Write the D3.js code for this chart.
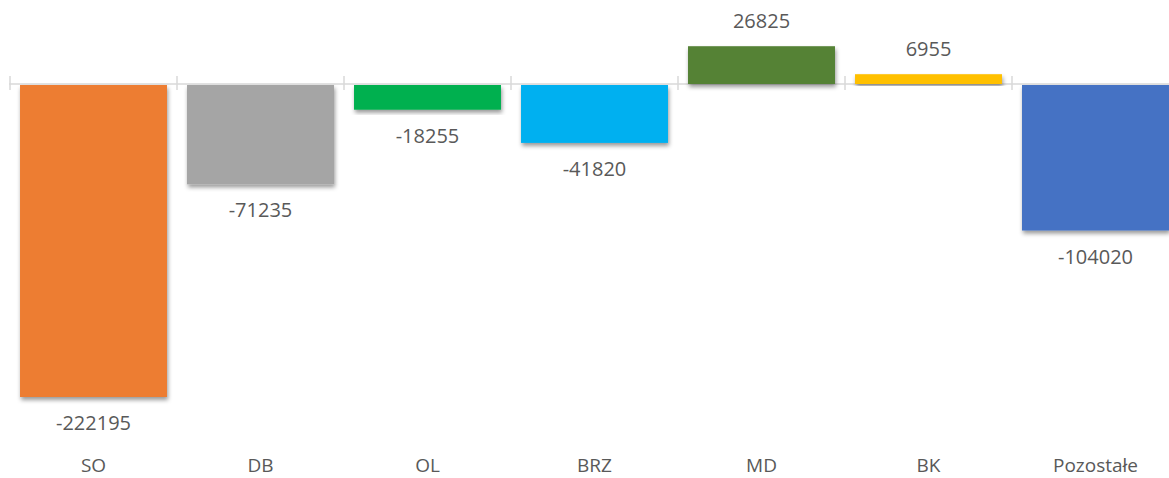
<!DOCTYPE html>
<html>
<head>
<meta charset="utf-8">
<script src="https://cdn.jsdelivr.net/npm/d3@7"></script>
<style>
  body { margin: 0; background: #fff; }
  svg text { font-family: "Open Sans", "Noto Sans", sans-serif; fill: #595959; }
</style>
</head>
<body>
<div id="chart"></div>
<script>
// data
const categories = ["SO", "DB", "OL", "BRZ", "MD", "BK", "Pozostałe"];
const values = [-222195, -71235, -18255, -41820, 26825, 6955, -104020];
const colors = ["#ED7D31", "#A5A5A5", "#00B050", "#00B0F0", "#548235", "#FFC000", "#4472C4"];

const width = 1169, height = 478;

const svg = d3.select("#chart").append("svg")
    .attr("width", width)
    .attr("height", height);

// drop shadow like the office chart
const defs = svg.append("defs");
const shadow = defs.append("filter").attr("id", "shadow")
    .attr("x", "-10%").attr("y", "-10%").attr("width", "130%").attr("height", "130%");
shadow.append("feDropShadow")
    .attr("dx", 1).attr("dy", 3).attr("stdDeviation", 2)
    .attr("flood-color", "#000").attr("flood-opacity", 0.4);

const xScale = d3.scaleBand()
    .domain(categories)
    .range([10, 1179])
    .paddingInner(0.12)
    .paddingOuter(0.06);

const yScale = d3.scaleLinear()
    .domain([d3.min(values), 0])
    .range([397, 84]);

const data = categories.map((c, i) => ({cat: c, val: values[i], color: colors[i]}));

// axis line with ticks between categories
const axisG = svg.append("g").attr("transform", `translate(0,${yScale(0)})`);
axisG.append("line")
    .attr("x1", 9).attr("x2", width)
    .attr("stroke", "#d9d9d9").attr("stroke-width", 1.5);
const step = xScale.step();
d3.range(categories.length + 1).forEach(i => {
    const x = xScale.range()[0] + i * step;
    axisG.append("line")
        .attr("x1", x).attr("x2", x)
        .attr("y1", -8).attr("y2", 6)
        .attr("stroke", "#d9d9d9").attr("stroke-width", 1.5);
});

// bars
svg.append("g").selectAll("rect")
    .data(data)
    .join("rect")
    .attr("x", d => xScale(d.cat))
    .attr("width", xScale.bandwidth())
    .attr("y", d => d.val < 0 ? yScale(0) + 1 : yScale(d.val))
    .attr("height", d => Math.abs(yScale(d.val) - yScale(0)) - (d.val < 0 ? 1 : 0))
    .attr("fill", d => d.color)
    .attr("filter", "url(#shadow)");

// value labels
svg.append("g").selectAll("text")
    .data(data)
    .join("text")
    .attr("x", d => xScale(d.cat) + xScale.bandwidth() / 2)
    .attr("y", d => d.val < 0 ? yScale(d.val) + 26 : yScale(d.val) - 25)
    .attr("dy", "0.35em")
    .attr("text-anchor", "middle")
    .attr("font-size", 20)
    .text(d => d.val);

// category labels
svg.append("g").selectAll("text")
    .data(data)
    .join("text")
    .attr("x", d => xScale(d.cat) + xScale.bandwidth() / 2)
    .attr("y", 472)
    .attr("text-anchor", "middle")
    .attr("font-size", 19)
    .text(d => d.cat);
</script>
</body>
</html>
